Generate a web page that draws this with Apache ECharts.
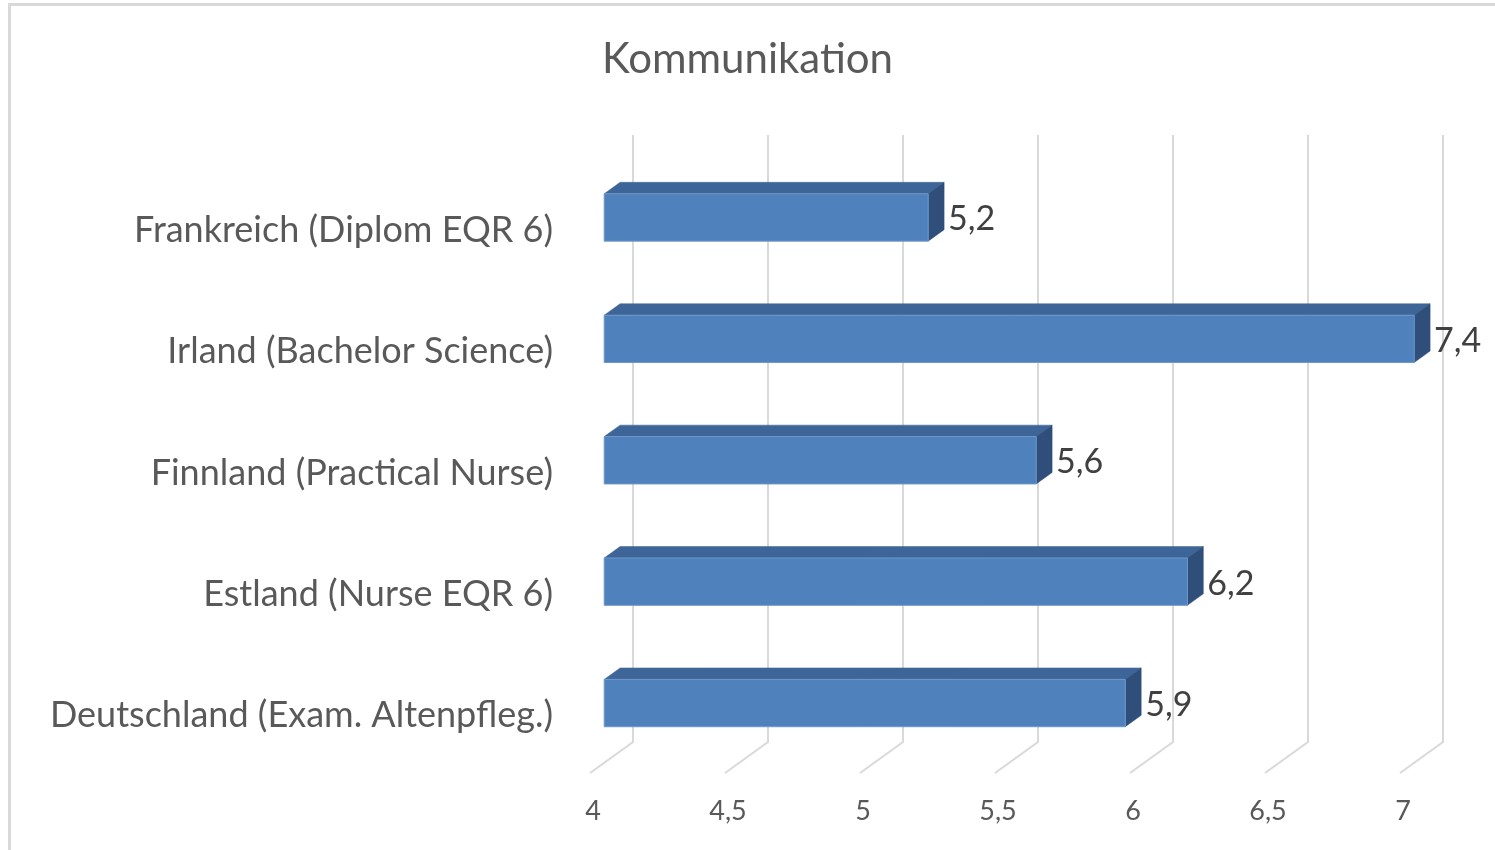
<!DOCTYPE html>
<html>
<head>
<meta charset="utf-8">
<script src="https://cdn.jsdelivr.net/npm/echarts@6/dist/echarts.min.js"></script>
<style>
html,body{margin:0;padding:0;background:#fff;}
#chart{width:1495px;height:850px;}
</style>
</head>
<body>
<div id="chart"></div>
<script>
const title = 'Kommunikation';
const categories = [
  'Frankreich (Diplom EQR 6)',
  'Irland (Bachelor Science)',
  'Finnland (Practical Nurse)',
  'Estland (Nurse EQR 6)',
  'Deutschland (Exam. Altenpfleg.)'
];
const values = [5.2, 7.4, 5.6, 6.16, 5.93];
const xTicks = [4, 4.5, 5, 5.5, 6, 6.5, 7];
const X_MIN = 4, X_MAX = 7, X_STEP = 0.5;

const FONT = 'Lato';
const DX = 43, DY = -31;       // depth vector front -> back wall
const F0 = 0.33, F1 = 0.70;    // bar front / back depth fractions
const fmt = v => v.toFixed(1).replace('.', ',').replace(',0', '');
const fmtTick = v => String(v).replace('.', ',');

const chart = echarts.init(document.getElementById('chart'), null, {renderer: 'canvas'});

const option = {
  backgroundColor: '#fff',
  animation: false,
  title: {
    text: title, left: 'center', top: 33,
    textStyle: {fontFamily: FONT, fontSize: 42, fontWeight: 'normal', color: '#595959'}
  },
  graphic: [{
    type: 'rect', shape: {x: 9.5, y: 4.5, width: 1600, height: 1000},
    style: {fill: 'none', stroke: '#d9d9d9', lineWidth: 3}, z: -10
  }],
  grid: {left: 590, right: 95, top: 166, bottom: 77, containLabel: false},
  xAxis: {
    type: 'value', min: X_MIN, max: X_MAX, interval: X_STEP,
    axisLine: {show: false}, axisTick: {show: false}, splitLine: {show: false},
    axisLabel: {
      formatter: fmtTick, margin: 25, padding: [0, 0, 0, 6],
      fontFamily: FONT, fontSize: 27, color: '#595959'
    }
  },
  yAxis: {
    type: 'category', data: categories, inverse: true,
    axisLine: {show: false}, axisTick: {show: false}, splitLine: {show: false},
    axisLabel: {
      margin: 37, formatter: v => '{c|' + v + '}',
      rich: {c: {padding: [7, 0, 0, 0], fontFamily: FONT, fontSize: 36, color: '#595959'}},
      fontFamily: FONT, fontSize: 36, color: '#595959'
    }
  },
  series: [
    {
      type: 'custom', silent: true, clip: false, z: 1,
      data: xTicks.map(v => [v, 0]),
      encode: {x: 0, y: 1},
      renderItem: function (params, api) {
        const cs = params.coordSys;
        const x = api.coord([api.value(0), 0])[0];
        const yb = cs.y + cs.height;
        const yt = cs.y;
        return {
          type: 'polyline',
          shape: {points: [[x + DX, yt + DY], [x + DX, yb + DY], [x, yb]]},
          style: {fill: null, stroke: '#d9d9d9', lineWidth: 2}
        };
      }
    },
    {
      type: 'custom', clip: false, z: 2,
      data: values.map((v, i) => [v, i]),
      encode: {x: 0, y: 1},
      renderItem: function (params, api) {
        const v = api.value(0);
        const cat = api.value(1);
        const vc = Math.min(v, X_MAX);
        const p0 = api.coord([X_MIN, cat]);
        const p1 = api.coord([vc, cat]);
        const h = api.size([0, 1])[1] * 0.39;
        const x0 = p0[0] + F0 * DX, x1 = p1[0] + F0 * DX;
        const yc = p0[1] + F0 * DY + 1;
        const top = yc - h / 2, bot = yc + h / 2;
        const dx = (F1 - F0) * DX, dy = (F1 - F0) * DY;
        return {
          type: 'group',
          children: [
            {type: 'polygon', shape: {points: [[x0, top], [x1, top], [x1 + dx, top + dy], [x0 + dx, top + dy]]},
             style: {fill: '#3d6597', stroke: '#3d6597', lineWidth: 0.5}},
            {type: 'polygon', shape: {points: [[x1, top], [x1 + dx, top + dy], [x1 + dx, bot + dy], [x1, bot]]},
             style: {fill: '#2f4f7a', stroke: '#2f4f7a', lineWidth: 0.5}},
            {type: 'rect', shape: {x: x0, y: top, width: x1 - x0, height: h},
             style: {fill: '#4f81bd', stroke: '#6f97c9', lineWidth: 1}},
            {type: 'text', x: x1 + dx + 4, y: yc + 2,
             style: {text: fmt(v), fontFamily: FONT, fontSize: 34, fill: '#404040',
                     textAlign: 'left', textVerticalAlign: 'middle'}}
          ]
        };
      }
    }
  ]
};
chart.setOption(option);
</script>
</body>
</html>
